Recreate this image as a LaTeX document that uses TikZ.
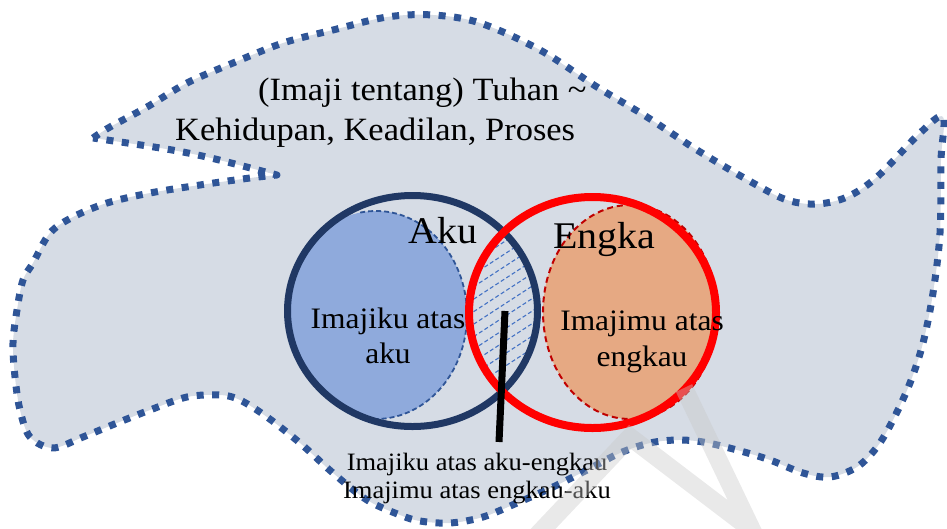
\documentclass[tikz,border=0pt]{standalone}
\usepackage{fontspec}
\setmainfont[FakeStretch=1.06]{Liberation Serif}
\definecolor{blobfill}{HTML}{D6DCE5}
\definecolor{blobline}{HTML}{2F5597}
\definecolor{navy}{HTML}{203864}
\definecolor{akufill}{HTML}{8FAADC}
\definecolor{engfill}{HTML}{E6A983}
\definecolor{darkred}{HTML}{C00000}
\definecolor{hatchc}{HTML}{4472C4}
\definecolor{wmark}{HTML}{C8C8C8}
\newcommand\ftitle{\fontsize{32.5}{38}\selectfont}
\newcommand\fbig{\fontsize{37.7}{44}\selectfont}
\newcommand\fmid{\fontsize{29.7}{35}\selectfont}
\newcommand\fsmall{\fontsize{25}{28}\selectfont}
\tikzset{
  blob/.style={fill=blobfill, draw=blobline, line width=7pt, line join=round, dash pattern=on 7pt off 8.5pt},
  ring/.style={line width=7pt},
  lbl/.style={inner sep=0pt, text=black},
  hatchline/.style={draw=hatchc, line width=1.1pt, dash pattern=on 4pt off 2.5pt},
}
\begin{document}
\begin{tikzpicture}[x=1pt,y=-1pt]
\useasboundingbox (0,0) rectangle (947,528);
% background blob
\draw[blob] plot[smooth, tension=0.55] coordinates {
 (93,138) (110,127) (147,107) (187,83) (233,63) (283,43) (333,30) (387,17) (433,15)
 (480,23) (540,50) (597,87) (647,117) (697,150) (753,183) (787,200) (817,204)
 (847,197) (877,177) (920,133) (943,117)
 (941,160) (940,233) (933,293) (923,343) (910,383) (893,420) (877,447) (857,467)
 (830,477) (803,473) (770,460) (737,450) (703,442) (677,440) (650,443) (620,453)
 (587,470) (553,487) (517,503) (483,517) (450,523) (420,521) (400,515) (367,500)
 (333,473) (300,443) (267,417) (240,400) (220,395) (187,397) (150,410) (117,423)
 (83,437) (53,448) (30,437) (20,410) (15,377) (13,343) (17,310) (23,280) (33,263)
 (50,233) (73,217) (107,203) (150,193) (200,185) (250,178) (277,175)}
 .. controls (190,152) .. (93,138) -- cycle;
% inner image ellipses
\begin{scope}
  \clip (412.5,311) ellipse [x radius=125pt, y radius=115.5pt];
  \fill[akufill] (376,315) ellipse [x radius=91pt, y radius=104pt];
\end{scope}
\draw[blobline, line width=1.8pt, dash pattern=on 5pt off 3pt]
  (376,315) ++(100:91pt and 104pt) arc[start angle=100, end angle=-95, x radius=91pt, y radius=104pt];
\draw[fill=engfill, draw=darkred, line width=2pt, dash pattern=on 6pt off 4pt]
  (630,312) ellipse [x radius=87pt, y radius=107pt];
% hatched intersection
\begin{scope}
  \clip (412.5,311) ellipse [x radius=125pt, y radius=115.5pt];
  \clip (592.5,312.5) ellipse [x radius=123.5pt, y radius=115.5pt];
  \foreach \k in {-10,...,18} {
    \draw[hatchline] (430,{190+\k*12.5}) -- ++(160,-104);
  }
\end{scope}
% rings
\draw[ring, draw=navy] (412.5,311) ellipse [x radius=125pt, y radius=115.5pt];
\draw[ring, draw=red, line width=8pt] (592.5,312.5) ellipse [x radius=123.5pt, y radius=115.5pt];
% labels
\node[lbl, anchor=base west] (t1) at (258,100) {\ftitle (Imaji tentang) Tuhan \textasciitilde};
\node[lbl, anchor=base west] (t2) at (175,140) {\ftitle Kehidupan, Keadilan, Proses};
\node[lbl, anchor=base west] (aku) at (408,243) {\fbig Aku};
\node[lbl, anchor=base west] (engka) at (553,248) {\fbig Engka};
\node[lbl, anchor=base] (ia1) at (388,328) {\fmid Imajiku atas};
\node[lbl, anchor=base] (ia2) at (388,363) {\fmid aku};
\node[lbl, anchor=base] (ie1) at (642,330) {\fmid Imajimu atas};
\node[lbl, anchor=base] (ie2) at (642,366) {\fmid engkau};
\node[lbl, anchor=base] (b1) at (477,470) {\fsmall Imajiku atas aku-engkau};
\node[lbl, anchor=base] (b2) at (477,498.5) {\fsmall Imajimu atas engkau-aku};
% connector
\coordinate (lens) at (505,311);
\coordinate (lineend) at (499,442);
\draw[black, line width=7pt] (lens) -- (lineend);
% watermark
\draw[wmark, opacity=0.4, line width=18pt, line join=miter]
  (525,548) -- (630,437) -- (752,530) -- (684,388);
\end{tikzpicture}
\end{document}
